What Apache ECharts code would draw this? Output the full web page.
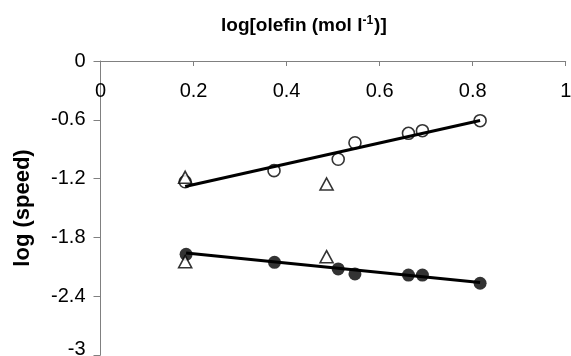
<!DOCTYPE html>
<html>
<head>
<meta charset="utf-8">
<script src="https://cdn.jsdelivr.net/npm/echarts@6/dist/echarts.min.js"></script>
<style>
html,body{margin:0;padding:0;background:#fff;}
#chart{width:571px;height:356px;}
</style>
</head>
<body>
<div id="chart"></div>
<script>
// Data
const openCircleX = [0.182, 0.373, 0.511, 0.547, 0.662, 0.692, 0.816];
const openCircleY = [-1.232, -1.119, -1.003, -0.834, -0.738, -0.711, -0.609];
const filledCircleX = [0.184, 0.374, 0.511, 0.547, 0.662, 0.692, 0.816];
const filledCircleY = [-1.973, -2.054, -2.122, -2.173, -2.184, -2.184, -2.268];
const triUpperX = [0.182, 0.486];
const triUpperY = [-1.187, -1.255];
const triLowerX = [0.182, 0.486];
const triLowerY = [-2.048, -1.997];
const trendUpperX = [0.182, 0.816];
const trendUpperY = [-1.28, -0.607];
const trendLowerX = [0.184, 0.816];
const trendLowerY = [-1.96, -2.26];
const xTitle = 'log[olefin (mol l';
const xTitleSup = '-1';
const xTitleEnd = ')]';
const yTitle = 'log (speed)';

const zip = (xs, ys) => xs.map((x, i) => [x, ys[i]]);
const FONT = "'Liberation Sans', Arial, Helvetica, sans-serif";

const chart = echarts.init(document.getElementById('chart'));
chart.setOption({
  animation: false,
  backgroundColor: '#fff',
  title: {
    text: '{a|' + xTitle + '}{s|' + xTitleSup + '}{a|' + xTitleEnd + '}',
    left: 216, top: 10,
    textStyle: {
      rich: {
        a: {fontSize: 19, fontWeight: 'bold', fontFamily: FONT, color: '#000'},
        s: {fontSize: 12, fontWeight: 'bold', fontFamily: FONT, color: '#000', padding: [0, 1, 9, 0]}
      }
    }
  },
  grid: {left: 100.5, right: 5.3, top: 61, bottom: 1, containLabel: false, outerBoundsMode: 'none'},
  xAxis: {
    type: 'value', min: 0, max: 1, interval: 0.2, position: 'top',
    axisLine: {show: true, onZero: false, lineStyle: {color: '#808080', width: 1}},
    axisTick: {show: true, inside: true, length: 5, lineStyle: {color: '#808080'}},
    axisLabel: {inside: true, margin: 20, fontSize: 20, fontFamily: FONT, color: '#000',
      formatter: v => String(parseFloat(v.toFixed(1)))},
    splitLine: {show: false}
  },
  yAxis: {
    type: 'value', min: -3, max: 0, interval: 0.6,
    name: yTitle, nameLocation: 'middle', nameGap: 67, nameRotate: 90,
    nameTextStyle: {fontSize: 22, fontWeight: 'bold', fontFamily: FONT, color: '#000'},
    axisLine: {show: true, onZero: false, lineStyle: {color: '#808080', width: 1}},
    axisTick: {show: true, inside: false, length: 7, lineStyle: {color: '#808080'}},
    axisLabel: {margin: 15, fontSize: 20, fontFamily: FONT, color: '#000',
      formatter: v => {
        const s = String(parseFloat(v.toFixed(1)));
        return v <= -2.99 ? '{low|' + s + '}' : s;
      },
      rich: {low: {fontSize: 20, fontFamily: FONT, color: '#000', padding: [0, 0, 12, 0]}}},
    splitLine: {show: false}
  },
  series: [
    {type: 'scatter', data: zip(openCircleX, openCircleY), symbol: 'circle', symbolSize: 12,
      itemStyle: {color: 'rgba(0,0,0,0)', borderColor: '#000', borderWidth: 1.6}, z: 2},
    {type: 'scatter', data: zip(filledCircleX, filledCircleY), symbol: 'circle', symbolSize: 13,
      itemStyle: {color: '#000'}, z: 2},
    {type: 'line', data: zip(trendUpperX, trendUpperY), showSymbol: false, symbol: 'none',
      lineStyle: {color: '#000', width: 3}, z: 3},
    {type: 'line', data: zip(trendLowerX, trendLowerY), showSymbol: false, symbol: 'none',
      lineStyle: {color: '#000', width: 3}, z: 3},
    {type: 'scatter', data: zip(triUpperX, triUpperY), symbol: 'triangle', symbolSize: [13, 12],
      itemStyle: {color: '#fff', borderColor: '#000', borderWidth: 1.6}, z: 4},
    {type: 'scatter', data: zip(triLowerX, triLowerY), symbol: 'triangle', symbolSize: [13, 12],
      itemStyle: {color: '#fff', borderColor: '#000', borderWidth: 1.6}, z: 4}
  ]
});
</script>
</body>
</html>
